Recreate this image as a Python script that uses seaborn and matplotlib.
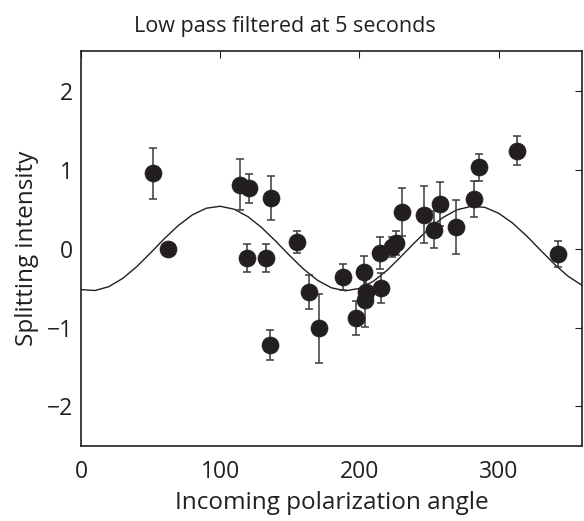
import matplotlib
matplotlib.use("Agg")
import matplotlib.pyplot as plt
import seaborn as sns
import pandas as pd

# Measured points
angles = [51.8, 62.6, 114.4, 120.4, 136.4, 119.4, 133.0, 155.2, 135.5, 164.0,
          171.2, 188.2, 197.6, 203.6, 205.0, 204.0, 214.6, 215.6, 223.5, 226.0,
          230.9, 246.3, 253.5, 257.8, 269.5, 282.7, 285.8, 313.0, 342.9]
intensity = [0.95, -0.01, 0.81, 0.76, 0.64, -0.12, -0.12, 0.08, -1.22, -0.55,
             -1.01, -0.36, -0.88, -0.30, -0.55, -0.65, -0.055, -0.505, 0.02, 0.07,
             0.46, 0.43, 0.24, 0.56, 0.27, 0.63, 1.03, 1.24, -0.07]
errors = [0.32, 0.05, 0.32, 0.18, 0.28, 0.18, 0.18, 0.14, 0.19, 0.22,
          0.435, 0.17, 0.22, 0.21, 0.18, 0.34, 0.20, 0.19, 0.13, 0.15,
          0.30, 0.36, 0.23, 0.28, 0.34, 0.23, 0.17, 0.18, 0.16]

# Fitted curve every 10 degrees
fit_angles = [0, 10, 20, 30, 40, 50, 60, 70, 80, 90, 100, 110, 120, 130, 140,
              150, 160, 170, 180, 190, 200, 210, 220, 230, 240, 250, 260, 270,
              280, 290, 300, 310, 320, 330, 340, 350, 360]
fit_values = [-0.520, -0.532, -0.483, -0.378, -0.230, -0.055, 0.127, 0.293, 0.426,
              0.510, 0.535, 0.498, 0.403, 0.262, 0.091, -0.091, -0.262, -0.403,
              -0.498, -0.535, -0.505, -0.415, -0.275, -0.100, 0.080, 0.250, 0.392,
              0.490, 0.532, 0.522, 0.447, 0.323, 0.162, -0.018, -0.196, -0.352, -0.466]

x_ticks = [0, 100, 200, 300]
y_ticks = [-2, -1, 0, 1, 2]
y_tick_labels = ["\u22122", "\u22121", "0", "1", "2"]

sns.set_theme(style="white")
plt.rcParams['font.family'] = ['Open Sans', 'DejaVu Sans']

fig = plt.figure(figsize=(5.84, 5.21), dpi=100)
ax = fig.add_axes([0.1387, 0.144, 0.858, 0.758])

pts = pd.DataFrame({"angle": angles, "intensity": intensity, "err": errors})
fit = pd.DataFrame({"angle": fit_angles, "value": fit_values})

sns.lineplot(data=fit, x="angle", y="value", ax=ax, color="#231f20", lw=1.0, zorder=2)
ax.errorbar(pts["angle"], pts["intensity"], yerr=pts["err"], fmt="none",
            ecolor="#3a3a3a", elinewidth=1.1, capsize=3, capthick=1.1, zorder=3)
sns.scatterplot(data=pts, x="angle", y="intensity", ax=ax, s=150, color="#231f20",
                edgecolor="#231f20", linewidth=0.5, zorder=4)

ax.set_xlim(0, 360)
ax.set_ylim(-2.5, 2.5)
ax.set_xticks(x_ticks)
ax.set_yticks(y_ticks)
ax.set_yticklabels(y_tick_labels)
ax.tick_params(direction="in", length=5, width=0.8, top=True, right=True,
               labelsize=16.5, colors="#231f20")
ax.tick_params(axis="x", pad=10)
ax.tick_params(axis="y", pad=6)
for s in ax.spines.values():
    s.set_color("#231f20")
    s.set_linewidth(1.2)
ax.set_xlabel("Incoming polarization angle", fontsize=17.5, color="#231f20", labelpad=5)
ax.set_ylabel("Splitting intensity", fontsize=17.5, color="#231f20", labelpad=5)
fig.text(0.488, 1 - 32 / 521, "Low pass filtered at 5 seconds", fontsize=15.5,
         color="#231f20", ha="center", va="baseline")

fig.savefig("out.png", dpi=100)
